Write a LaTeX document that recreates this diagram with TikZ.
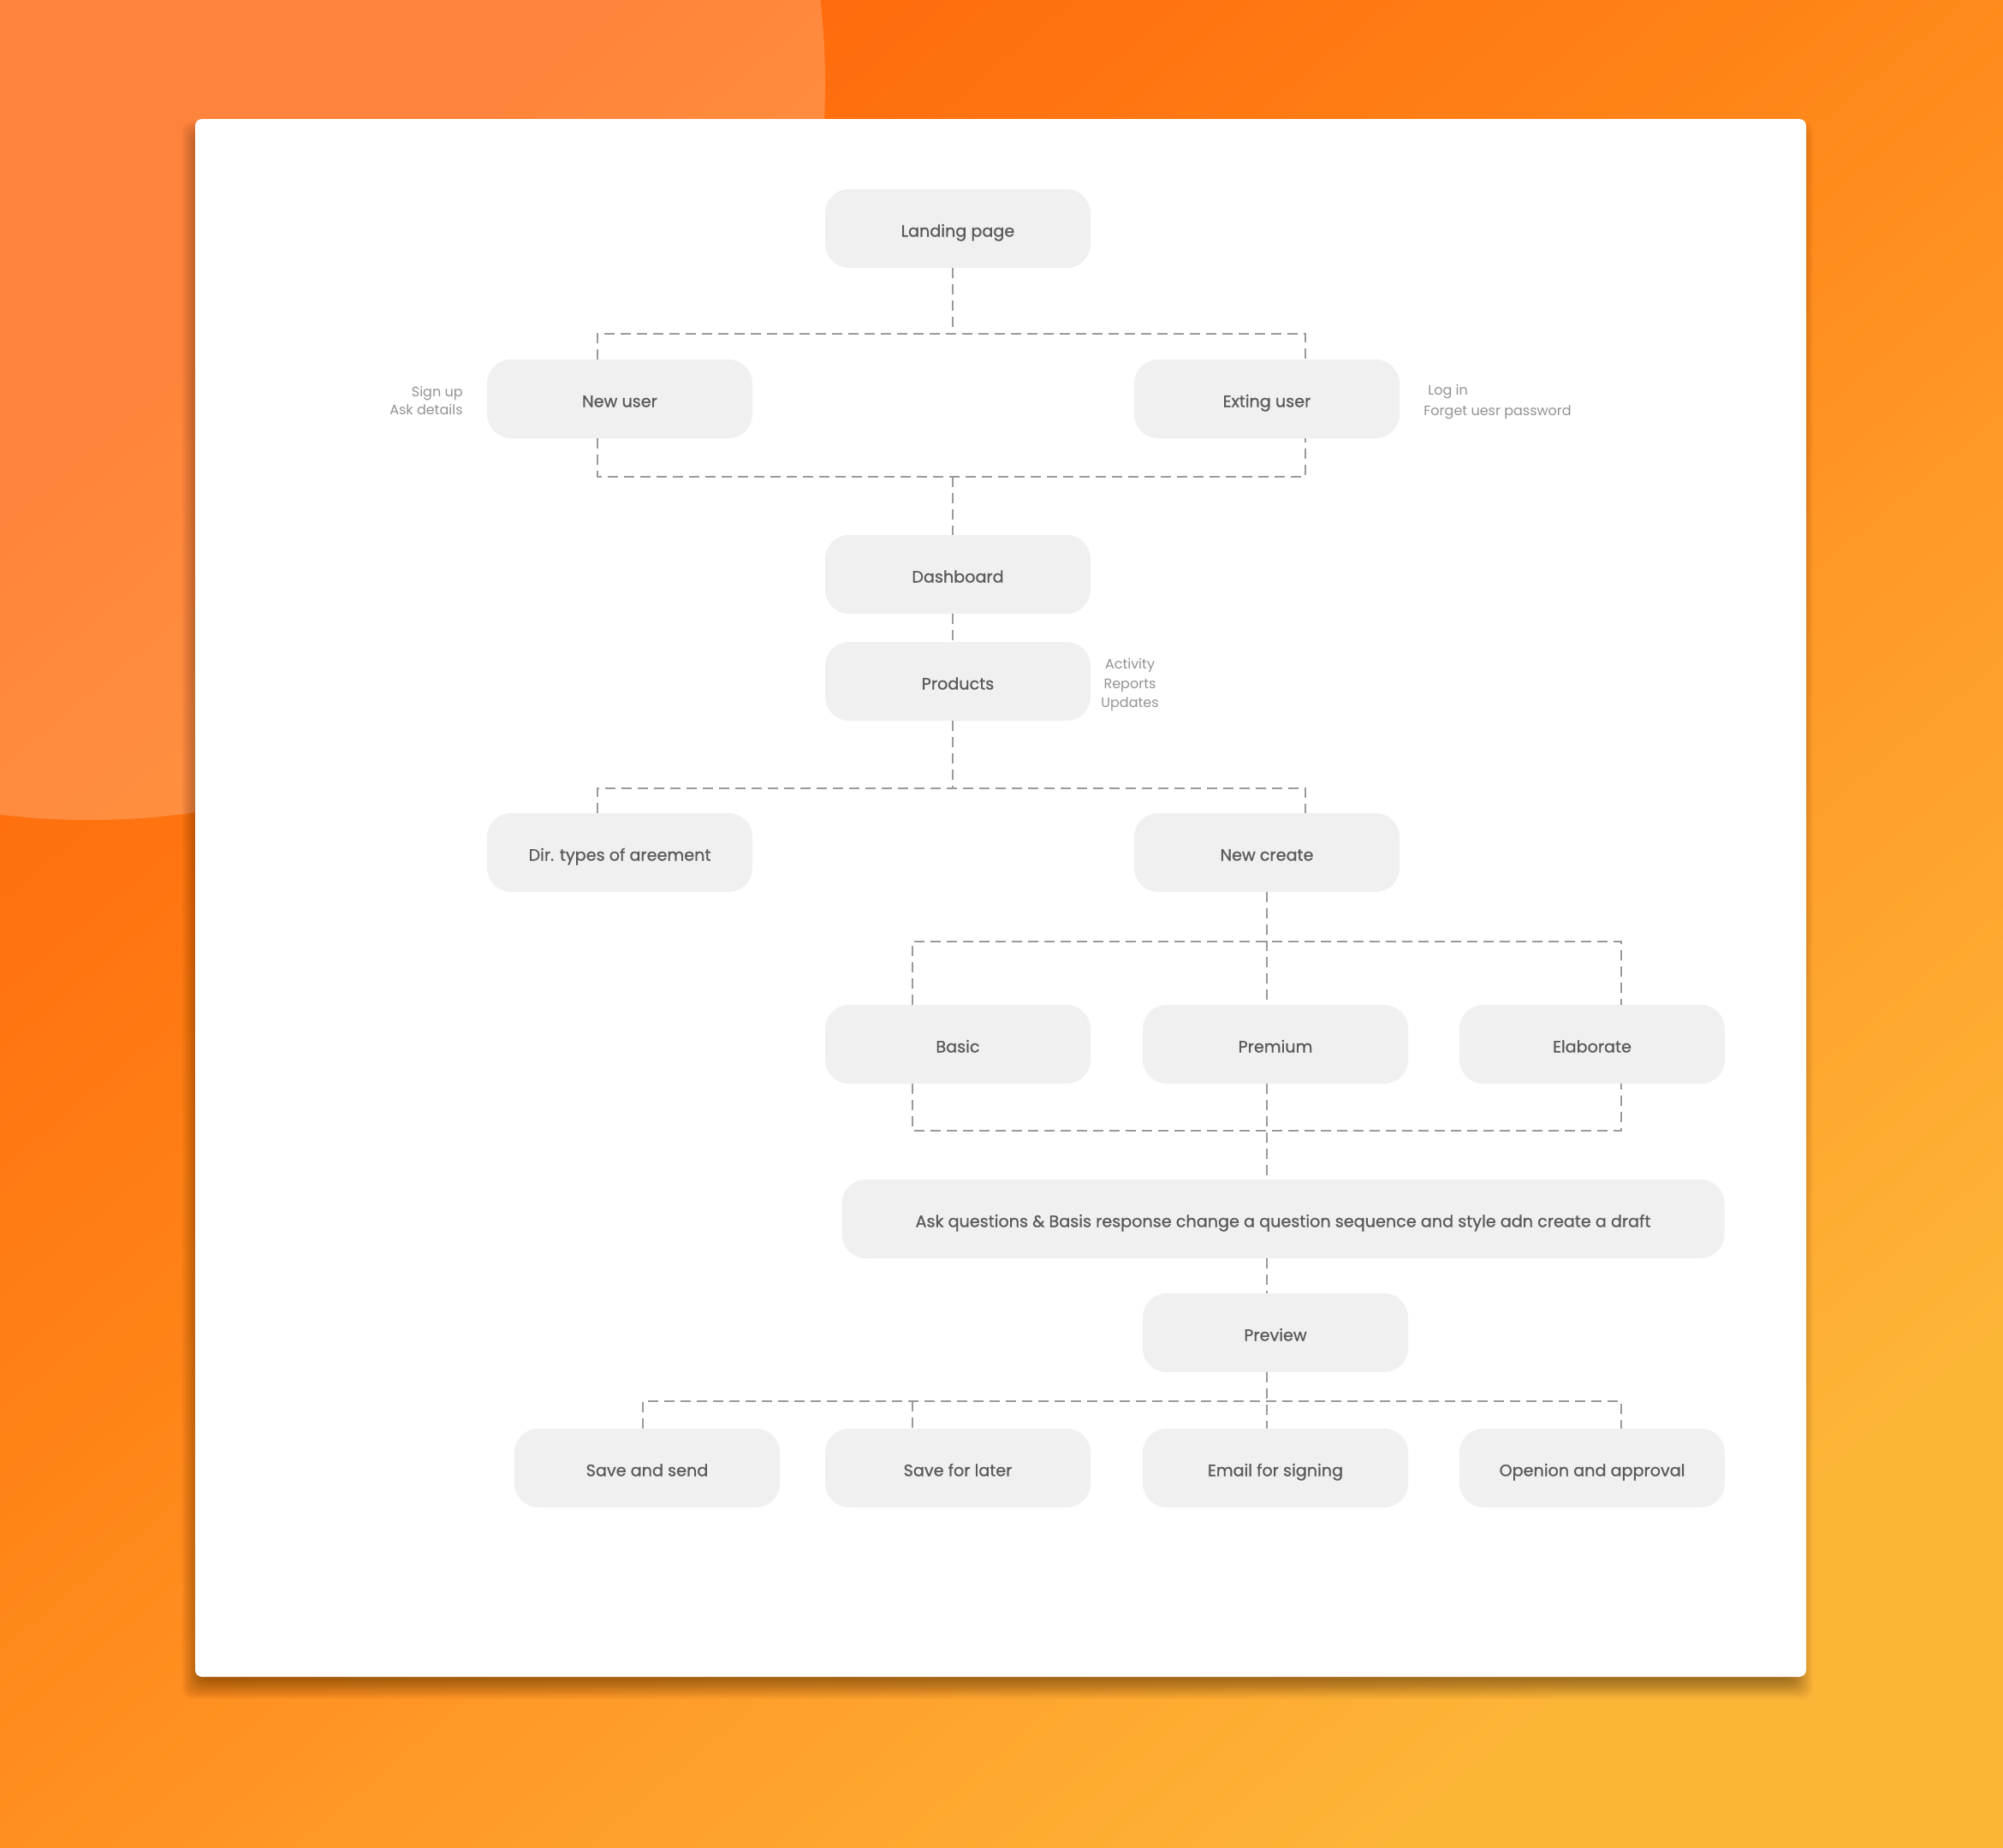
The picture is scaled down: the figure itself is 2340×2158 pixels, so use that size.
\documentclass[tikz,border=0pt]{standalone}
\usepackage{fontspec}
\setmainfont{Poppins}
\newfontfamily\labelfont{Poppins}[FakeBold=0.9]

\definecolor{bgtop}{HTML}{FF660A}
\definecolor{bgmidA}{HTML}{FF8418}
\definecolor{bgmidB}{HTML}{FF9A28}
\definecolor{bgbot}{HTML}{FDB538}
\definecolor{boxfill}{HTML}{F0F0F0}
\definecolor{boxtext}{HTML}{5A5A5A}
\definecolor{notetext}{HTML}{929292}
\definecolor{linkgray}{HTML}{9A9A9A}

% warm backdrop ramp, yellow at the low end, deep orange at the high end
\pgfdeclareverticalshading{warmramp}{100bp}{%
  color(0bp)=(bgbot); color(25bp)=(bgbot); color(42bp)=(bgmidB);
  color(55bp)=(bgmidA); color(75bp)=(bgtop); color(100bp)=(bgtop)}

\begin{document}
\begin{tikzpicture}[x=0.5pt,y=-0.5pt,
  stage/.style={rectangle, rounded corners=14pt, fill=boxfill,
    minimum width=155pt, minimum height=46pt, inner sep=0pt,
    text height=9.5pt, text depth=0pt,
    text=boxtext, font=\labelfont\fontsize{9.6}{11}\selectfont},
  note/.style={text=notetext, font=\fontsize{8}{10.5}\selectfont, inner sep=0pt},
  link/.style={draw=linkgray, line width=1.35pt, dash pattern=on 6pt off 3.5pt},
]
\useasboundingbox (0,0) rectangle (2340,2158);

% backdrop
\shade[shading=warmramp, shading angle=40] (0,0) rectangle (2340,2158);
\begin{scope}
  \clip (0,0) rectangle (2340,2158);
  \fill[white, opacity=0.2] (104,98) circle[radius=860];
\end{scope}

% soft shadow under the sheet, built from stacked translucent layers
\foreach \e in {-12,...,12}
  \fill[black, opacity=0.014, rounded corners=6pt]
    ({224-(\e)},{153-(\e)}) rectangle ({2106+(\e)},{1973+(\e)});

% sheet
\fill[white, rounded corners=4pt] (228,139) rectangle (2110,1959);

% stages
\node[stage] (landing)   at (1119,267)  {Landing page};
\node[stage] (newuser)   at (724,466)   {New user};
\node[stage] (existing)  at (1480,466)  {Exting user};
\node[stage] (dash)      at (1119,671)  {Dashboard};
\node[stage] (products)  at (1119,796)  {Products};
\node[stage] (dirtypes)  at (724,996)   {Dir. types of areement};
\node[stage] (newcreate) at (1480,996)  {New create};
\node[stage] (basic)     at (1119,1220) {Basic};
\node[stage] (premium)   at (1490,1220) {Premium};
\node[stage] (elaborate) at (1860,1220) {Elaborate};
\node[stage, minimum width=515.5pt] (ask) at (1499,1424)
  {Ask questions \& Basis response change a question sequence and style adn create a draft};
\node[stage] (preview)   at (1490,1557) {Preview};
\node[stage] (savesend)  at (756,1715)  {Save and send};
\node[stage] (savelater) at (1119,1715) {Save for later};
\node[stage] (email)     at (1490,1715) {Email for signing};
\node[stage] (opinion)   at (1860,1715) {Openion and approval};

% side notes
\node[note, align=right, anchor=east] (signnote) at (541,468) {Sign up\\Ask details};
\node[note, align=left, anchor=west, font=\fontsize{8}{12}\selectfont] (lognote) at (1663,470)
  {\hspace{2.5pt}Log in\\Forget uesr password};
\node[note, align=center, font=\fontsize{8}{11.3}\selectfont] (prodnote) at (1320,800)
  {Activity\\Reports\\Updates};

% junction points
\coordinate (uL) at (698,390);  \coordinate (uM) at (1113,390);  \coordinate (uR) at (1525,390);
\coordinate (dL) at (698,557);  \coordinate (dM) at (1113,557);  \coordinate (dR) at (1525,557);
\coordinate (pL) at (698,921);  \coordinate (pM) at (1113,921);  \coordinate (pR) at (1525,921);
\coordinate (cL) at (1066,1100); \coordinate (cM) at (1480,1100); \coordinate (cR) at (1894,1100);
\coordinate (bL) at (1066,1321); \coordinate (bM) at (1480,1321); \coordinate (bR) at (1894,1321);
\coordinate (vL) at (751,1637);  \coordinate (v2) at (1066,1637);
\coordinate (vM) at (1480,1637); \coordinate (vR) at (1894,1637);

% connectors
\draw[link] (landing.south -| uM) -- (uM);
\draw[link] (newuser.north -| uL) -- (uL) -- (uR) -- (existing.north -| uR);
\draw[link] (newuser.south -| dL) -- (dL) -- (dR) -- (existing.south -| dR);
\draw[link] (dM) -- (dash.north -| dM);
\draw[link] (dash.south -| dM) -- (products.north -| dM);
\draw[link] (products.south -| pM) -- (pM);
\draw[link] (dirtypes.north -| pL) -- (pL) -- (pR) -- (newcreate.north -| pR);
\draw[link] (newcreate.south -| cM) -- (cM) -- (premium.north -| cM);
\draw[link] (basic.north -| cL) -- (cL) -- (cR) -- (elaborate.north -| cR);
\draw[link] (basic.south -| bL) -- (bL) -- (bR) -- (elaborate.south -| bR);
\draw[link] (premium.south -| bM) -- (bM) -- (ask.north -| bM);
\draw[link] (ask.south -| bM) -- (preview.north -| bM);
\draw[link] (preview.south -| vM) -- (vM) -- (email.north -| vM);
\draw[link] (savesend.north -| vL) -- (vL) -- (vR) -- (opinion.north -| vR);
\draw[link] (v2) -- (savelater.north -| v2);
\end{tikzpicture}
\end{document}
